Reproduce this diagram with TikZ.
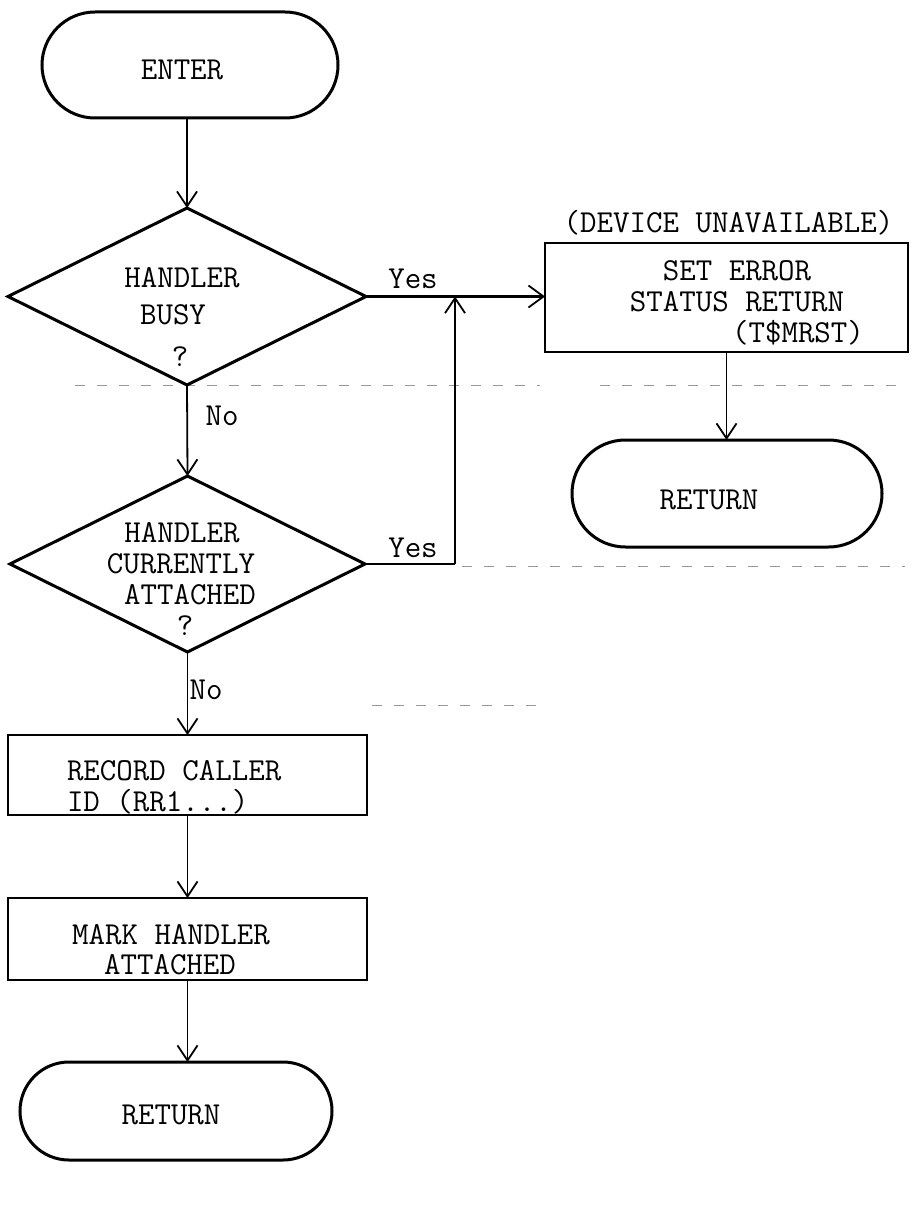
\documentclass[tikz,border=0pt]{standalone}
\usetikzlibrary{arrows.meta,shapes.geometric,shapes.misc}
\begin{document}
\begin{tikzpicture}[x=1pt,y=-1pt,
  every node/.style={inner sep=0pt, outer sep=0pt},
  term/.style={draw, rounded rectangle, line width=3pt},
  dec/.style={draw, diamond, line width=3pt},
  proc/.style={draw, rectangle, line width=2.6pt},
  txt/.style={font=\ttfamily\fontsize{32}{30}\selectfont, align=center},
  arr/.style={line width=1.8pt, -{Straight Barb[length=15pt,width=20pt,line width=1.8pt]}},
  flow/.style={line width=2.6pt},
  noise/.style={black!40, line width=1pt, dash pattern=on 10pt off 12pt}
]
\fill[white] (0,0) rectangle (910,1209);
\useasboundingbox (0,0) rectangle (910,1209);

% faint show-through lines
\draw[noise] (75,385) -- (540,385);
\draw[noise] (600,385) -- (905,385);
\draw[noise] (462,566) -- (905,566);
\draw[noise] (372,705) -- (540,705);

% shapes
\node[term, minimum width=296pt, minimum height=106pt] (enter) at (190,65) {};
\node[txt] (entertxt) at (182,70) {ENTER};

\node[dec, minimum width=358pt, minimum height=177pt] (busy) at (187,296.5) {};
\node[txt] (busyl1) at (182,278) {HANDLER};
\node[txt] (busyl2) at (173,315) {BUSY};
\node[txt] (busyq) at (180,357) {?};

\node[txt] (devu) at (728.5,223) {(DEVICE UNAVAILABLE)};
\node[proc, minimum width=363pt, minimum height=109pt] (seterr) at (726.5,297.5) {};
\node[txt] (seterrl1) at (737,271) {SET ERROR};
\node[txt] (seterrl2) at (737,302) {STATUS RETURN};
\node[txt] (mrst) at (798,333) {(T\$MRST)};

\node[term, minimum width=310pt, minimum height=107pt] (ret2) at (727,493.5) {};
\node[txt] (ret2txt) at (709,500) {RETURN};

\node[dec, minimum width=355pt, minimum height=176pt] (attached) at (187.5,564) {};
\node[txt] (attl1) at (182,533) {HANDLER};
\node[txt] (attl2) at (181,564) {CURRENTLY};
\node[txt] (attl3) at (190,595) {ATTACHED};
\node[txt] (attq) at (185,626) {?};

\node[proc, minimum width=359pt, minimum height=80pt] (record) at (187.5,775) {};
\node[txt, anchor=west] (recl1) at (67,771) {RECORD CALLER};
\node[txt, anchor=west] (recl2) at (67,802) {ID (RR1...)};

\node[proc, minimum width=359pt, minimum height=82pt] (mark) at (187.5,939) {};
\node[txt] (markl1) at (171,935) {MARK HANDLER};
\node[txt] (markl2) at (170,965) {ATTACHED};

\node[term, minimum width=312pt, minimum height=98pt] (ret1) at (176,1111) {};
\node[txt] (ret1txt) at (171,1115) {RETURN};

% connectors
\draw[arr] (busy.north |- enter.south) -- (busy.north);
\draw[flow, -{Straight Barb[length=15pt,width=22pt,line width=1.8pt]}] (busy.east) -- (busy.east -| seterr.west);
\node[txt] (yes1) at (413,279) {Yes};
\draw[arr] (busy.south) -- (attached.north);
\node[txt] (no1) at (222,416) {No};
\coordinate (j) at (455,564);
\draw[flow] (attached.east) -- (j);
\draw[arr] (j) -- (j |- busy.east);
\node[txt] (yes2) at (413,548) {Yes};
\draw[arr] (attached.south) -- (record.north);
\node[txt] (no2) at (206,690) {No};
\draw[arr] (record.south) -- (mark.north);
\draw[arr] (mark.south) -- (mark.south |- ret1.north);
\draw[arr] (seterr.south) -- (seterr.south |- ret2.north);
\end{tikzpicture}
\end{document}
